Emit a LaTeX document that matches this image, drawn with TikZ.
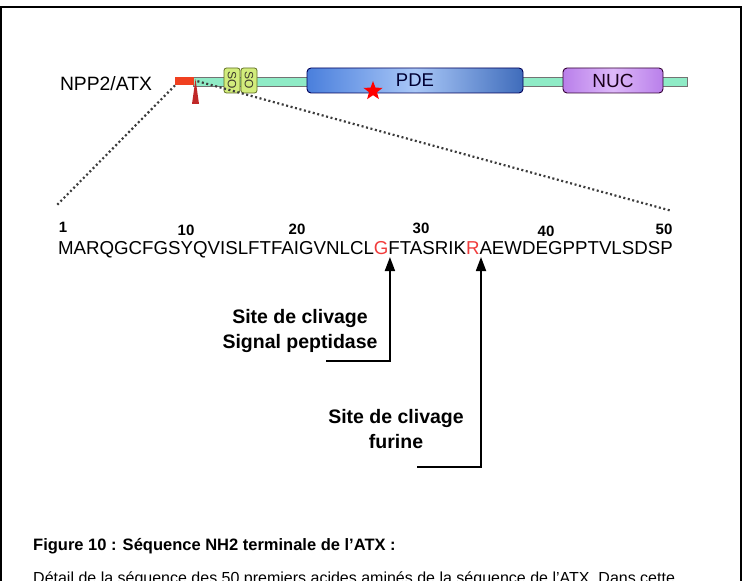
\documentclass[tikz,border=0pt]{standalone}
\usepackage{fontspec}
\setmainfont{Liberation Sans}
\usetikzlibrary{shapes.geometric,arrows.meta}
\definecolor{bbone}{HTML}{8FEBC6}
\definecolor{sigred}{HTML}{F04020}
\definecolor{spikered}{HTML}{C02828}
\definecolor{soyel}{HTML}{D2EC7C}
\definecolor{soedge}{HTML}{5F6E22}
\definecolor{pdedark}{HTML}{4A7FDC}
\definecolor{pdelight}{HTML}{A9C7F7}
\definecolor{nucdark}{HTML}{B97FEA}
\definecolor{nuclight}{HTML}{DDB8F9}
\definecolor{resred}{HTML}{F03C3C}
\definecolor{dotgray}{HTML}{3C3C3C}
\begin{document}
\begin{tikzpicture}[x=1pt,y=-1pt,
  pdebox/.style={draw=black!65!blue, line width=0.9pt, rounded corners=4pt,
    left color=pdedark, right color=pdedark!85!black, middle color=pdelight,
    minimum width=216pt, minimum height=25pt, inner sep=0pt,
    font=\fontsize{18.5}{20}\selectfont, text=black!80!blue},
  nucbox/.style={draw=black!60!violet, line width=0.9pt, rounded corners=4pt,
    left color=nucdark, right color=nucdark, middle color=nuclight,
    minimum width=100pt, minimum height=25pt, inner sep=0pt,
    font=\fontsize{19}{20}\selectfont, text=black!80!violet},
  sobox/.style={draw=soedge, fill=soyel, line width=0.8pt, rounded corners=2.5pt,
    rotate=-90, minimum width=25pt, minimum height=16pt, inner sep=0pt,
    font=\fontsize{12}{12}\selectfont, text=black!75!olive},
  numlab/.style={font=\bfseries\fontsize{15}{16}\selectfont, inner sep=0pt},
  seqf/.style={font=\fontsize{18.7}{20}\selectfont, inner sep=0pt, outer sep=0pt, anchor=base west},
  cutlab/.style={font=\bfseries\fontsize{19.5}{25.5}\selectfont, align=center, inner sep=0pt},
  cleave/.style={line width=1.8pt, -{Triangle[width=10pt,length=14pt]}},
  zoomline/.style={dotgray, line width=2.2pt, dash pattern=on 2pt off 2.6pt}
]
\useasboundingbox (0,0) rectangle (743,580);
\clip (0,0) rectangle (743,580);
% frame
\draw[line width=2pt] (1,620) -- (1,7) -- (741,7) -- (741,620);

% protein scheme
\node[font=\fontsize{19.3}{20}\selectfont, inner sep=0pt] (name) at (106,83.5) {NPP2/ATX};
\draw[fill=bbone, draw=black!55, line width=0.6pt] (193,77.5) rectangle (687,86);
\node[fill=sigred, minimum width=19pt, minimum height=8pt, inner sep=0pt, anchor=north west] (sig) at (175,77) {};
\fill[spikered] (192,104) -- (195.5,79) -- (199,104) -- cycle;
\node[sobox] (so1) at (232,80.5) {SO};
\node[sobox] (so2) at (249,80.5) {SO};
\node[pdebox] (pde) at (415,80.5) {PDE};
\node[nucbox] (nuc) at (613,80.5) {NUC};
\node[star, star points=5, star point ratio=2.4, fill=red, inner sep=0pt, minimum size=20pt] (mut) at (373,91) {};

% zoom lines
\coordinate (zl) at (57,205);
\coordinate (zr) at (672,211);
\draw[zoomline] (sig.south west) -- (zl);
\draw[zoomline] ([xshift=3pt]sig.east) -- (zr);

% residue numbers
\node[numlab] (n1) at (63,227) {1};
\node[numlab] (n10) at (186,230) {10};
\node[numlab] (n20) at (297,229) {20};
\node[numlab] (n30) at (421,228) {30};
\node[numlab] (n40) at (546,231) {40};
\node[numlab] (n50) at (664,229) {50};

% sequence
\node[seqf] (s1) at (58,254) {MARQGCFGSYQVISLFTFAIGVNLCL};
\node[seqf, text=resred] (g) at (s1.base east) {G};
\node[seqf] (s2) at (g.base east) {FTASRIK};
\node[seqf, text=resred] (r) at (s2.base east) {R};
\node[seqf] (s3) at (r.base east) {AEWDEGPPTVLSDSP};

% cleavage arrows
\coordinate (c1) at (326,361);
\coordinate (c2) at (417,467);
\draw[cleave] (c1) -| ([xshift=1.5pt,yshift=-3pt]g.base east);
\draw[cleave] (c2) -| ([xshift=1.5pt,yshift=-3pt]r.base east);
\node[cutlab] (lab1) at (300,331) {Site de clivage\\Signal peptidase};
\node[cutlab] (lab2) at (396,429) {Site de clivage\\furine};

% caption
\node[anchor=base west, inner sep=0pt, font=\bfseries\fontsize{16.5}{20}\selectfont] (cap) at (33,550) {Figure 10 : Séquence NH2 terminale de l’ATX :};
\node[anchor=base west, inner sep=0pt, font=\fontsize{16}{20}\selectfont] (desc) at (33,583) {Détail de la séquence des 50 premiers acides aminés de la séquence de l’ATX. Dans cette};
\end{tikzpicture}
\end{document}
